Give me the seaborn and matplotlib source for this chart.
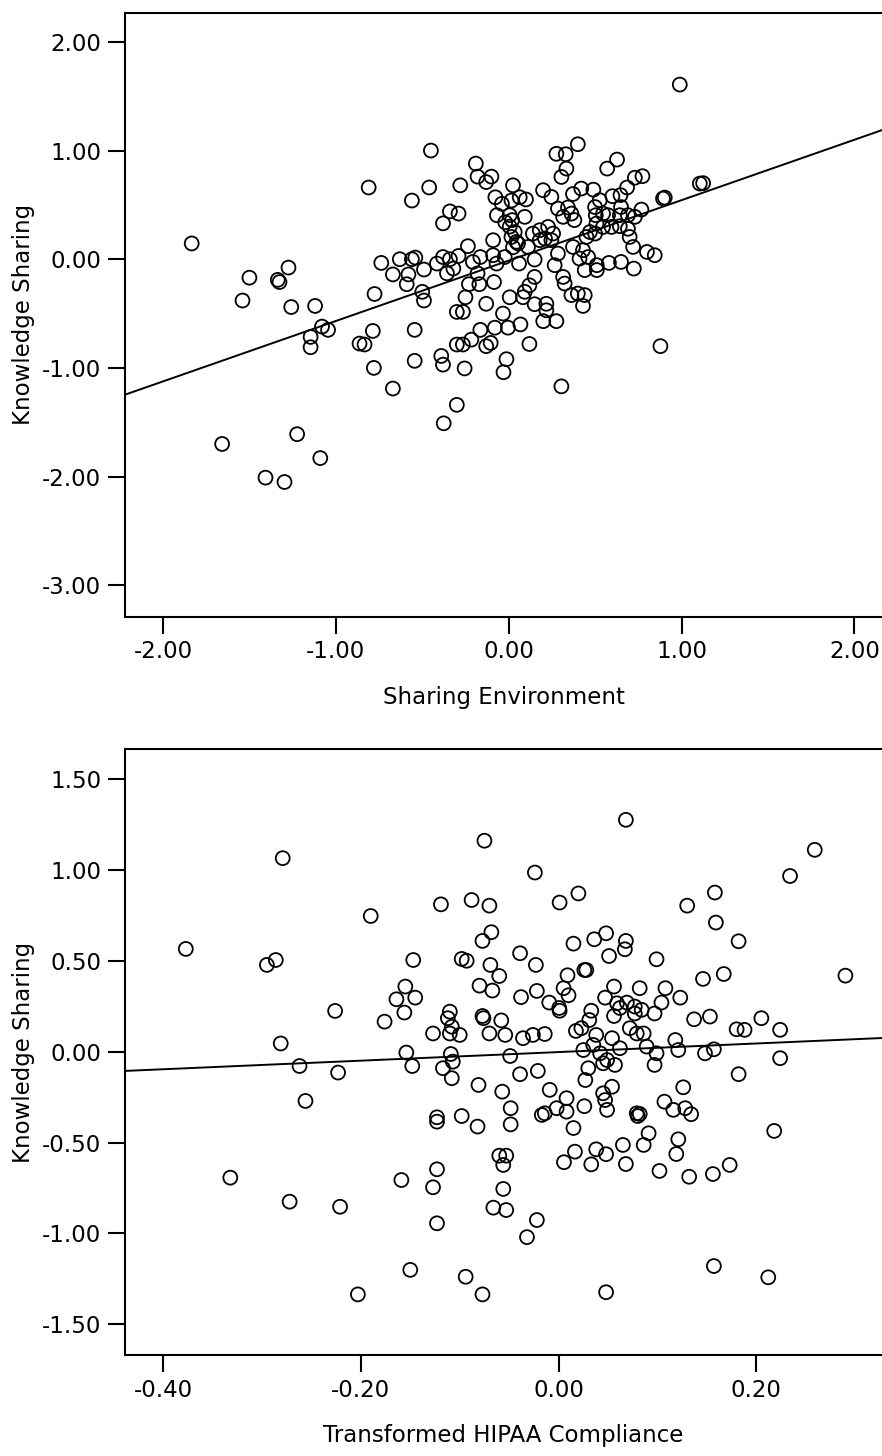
import numpy as np
import pandas as pd
import matplotlib
matplotlib.use("Agg")
import matplotlib.pyplot as plt
import seaborn as sns

# Top panel: Sharing Environment vs Knowledge Sharing
env_x = [
    -0.45, -0.81, -0.56, -0.46, -0.28, -0.19, -0.18, -0.13, -0.10,
    -0.34, -0.29, -0.38,
    0.025, -0.077, -0.039, 0.016, 0.064, 0.10,
    -0.068, 0.006, -0.02, 0.02, 0.006, 0.035, 0.016, 0.045, 0.025, 0.054,
    0.093, -0.09, -0.236,
    -0.737, -0.63, -0.56, -0.54, -0.67, -0.58, -0.59, -0.49,
    -0.415, -0.38, -0.34, -0.29, -0.357, -0.32,
    -0.207, -0.164, -0.09, -0.07,
    -0.18, -0.17, -0.23, -0.085,
    -0.023, 0.06,
    -0.776, -0.50, -0.49, -0.25, -0.30, -0.265, -0.13, -0.033,
    0.006, 0.083, 0.093,
    -0.786, -0.863, -0.834, -0.544,
    -0.164, -0.08, -0.004, 0.068,
    -0.30, -0.265, -0.216, -0.13, -0.104, 0.12,
    -0.78, -0.544, -0.39, -0.38, -0.255, -0.013, -0.03,
    -0.67, -0.30, -0.376,
    -1.834, -1.50, -1.54, -1.336, -1.326, -1.274, -1.258, -1.12, -1.08, -1.045,
    -1.146, -1.146,
    -1.658, -1.224, -1.09, -1.407, -1.297,
    0.40, 0.276, 0.33, 0.334, 0.305, 0.57, 0.627, 0.73, 0.774, 1.106, 1.125,
    0.893, 0.903,
    0.199, 0.247, 0.372, 0.42, 0.49, 0.60, 0.647, 0.685,
    0.285, 0.343, 0.315, 0.363, 0.38,
    0.50, 0.527, 0.504, 0.546, 0.575,
    0.65, 0.643, 0.69, 0.73, 0.768,
    0.508, 0.546, 0.595, 0.643, 0.69,
    0.47, 0.45, 0.50,
    0.14, 0.18, 0.228, 0.257, 0.21, 0.18, 0.247,
    0.112, 0.15,
    0.372, 0.43, 0.41, 0.46, 0.51, 0.51,
    0.285, 0.266, 0.44,
    0.58, 0.65, 0.724,
    0.70, 0.72, 0.80, 0.845,
    0.15, 0.12,
    0.315, 0.324, 0.363, 0.40, 0.44, 0.43,
    0.15, 0.218, 0.218, 0.20, 0.276,
    0.878, 0.305, 0.99,
]
env_y = [
    1.00, 0.66, 0.54, 0.66, 0.68, 0.88, 0.76, 0.71, 0.76,
    0.44, 0.42, 0.33,
    0.68, 0.57, 0.51, 0.54, 0.57, 0.55,
    0.405, 0.405, 0.34, 0.36, 0.30, 0.25, 0.205, 0.16, 0.11, 0.145,
    0.39, 0.175, 0.12,
    -0.034, 0.00, 0.00, 0.015, -0.14, -0.14, -0.23, -0.095,
    -0.04, 0.02, 0.00, 0.03, -0.13, -0.086,
    -0.025, 0.02, 0.037, -0.04,
    -0.13, -0.23, -0.23, -0.21,
    0.02, -0.04,
    -0.32, -0.30, -0.38, -0.35, -0.485, -0.485, -0.41, -0.50,
    -0.35, -0.35, -0.30,
    -0.66, -0.776, -0.785, -0.65,
    -0.65, -0.63, -0.63, -0.60,
    -0.785, -0.785, -0.74, -0.80, -0.77, -0.78,
    -1.00, -0.935, -0.89, -0.97, -1.005, -0.92, -1.04,
    -1.19, -1.34, -1.51,
    0.145, -0.17, -0.38, -0.19, -0.21, -0.077, -0.44, -0.43, -0.62, -0.65,
    -0.715, -0.81,
    -1.70, -1.61, -1.83, -2.01, -2.05,
    1.058, 0.97, 0.966, 0.834, 0.757, 0.834, 0.917, 0.75, 0.764, 0.696, 0.70,
    0.558, 0.567,
    0.635, 0.573, 0.60, 0.65, 0.64, 0.58, 0.59, 0.66,
    0.466, 0.476, 0.39, 0.42, 0.36,
    0.48, 0.543, 0.405, 0.42, 0.405,
    0.48, 0.405, 0.405, 0.39, 0.457,
    0.328, 0.297, 0.297, 0.304, 0.28,
    0.25, 0.205, 0.236,
    0.236, 0.267, 0.297, 0.236, 0.19, 0.175, 0.175,
    0.113, -0.003,
    0.113, 0.083, 0.006, 0.02, -0.055, -0.10,
    0.052, -0.055, -0.10,
    -0.034, -0.025, -0.086,
    0.205, 0.113, 0.067, 0.037,
    -0.163, -0.24,
    -0.163, -0.224, -0.33, -0.316, -0.33, -0.43,
    -0.414, -0.41, -0.47, -0.57, -0.57,
    -0.80, -1.17, 1.607,
]

# Bottom panel: Transformed HIPAA Compliance vs Knowledge Sharing
hipaa_x = [
    -0.377, -0.279, -0.295, -0.286, -0.19, -0.226, -0.281,
    -0.147, -0.155, -0.164, -0.145, -0.156, -0.176,
    -0.119, -0.088, -0.07, -0.075, -0.068, -0.077,
    -0.098, -0.093, -0.069, -0.08, -0.067,
    -0.11, -0.112, -0.108, -0.10, -0.127, -0.11,
    -0.077, -0.076, -0.07, -0.058, -0.06,
    0.068, -0.024, 0.259, 0.234, 0.001, 0.02, 0.13, 0.158, 0.159, 0.182, 0.29,
    0.015, 0.036, 0.048, 0.068, 0.067, 0.051,
    -0.039, -0.023,
    0.009, 0.005, 0.01, 0.026, 0.028,
    0.099, 0.146, 0.167,
    -0.038, -0.022, -0.0095, 0.0006, 0.001,
    0.056, 0.047, 0.059, 0.069, 0.062, 0.056, 0.077, 0.082, 0.084, 0.077,
    0.108, 0.104, 0.097, 0.123,
    0.137, 0.153, 0.18, 0.188, 0.205, 0.224,
    -0.054, -0.036, -0.026, -0.014,
    0.0175, 0.023, 0.031, 0.033,
    0.038, 0.054, 0.072, 0.079, 0.086, 0.118,
    0.062, 0.025, 0.035, 0.042, 0.049, 0.057, 0.045,
    0.089, 0.099, 0.097, 0.121, 0.148, 0.157, 0.224, 0.182, -0.049,
    -0.039, -0.021, -0.009, -0.057,
    0.027, 0.030,
    0.045, 0.047, 0.054, 0.049,
    0.008, 0.008, -0.002, -0.014, -0.017, 0.026, 0.015,
    -0.0485, -0.0485,
    0.126, 0.107, 0.116, 0.128, 0.134,
    0.079, 0.08, 0.082,
    0.091, 0.086, 0.065, 0.068, 0.038, 0.048, 0.033, 0.0165, 0.0054,
    0.121, 0.119, 0.102, 0.132, 0.156, 0.173,
    0.218,
    -0.06, -0.053, -0.056, -0.056, -0.066, -0.053,
    -0.022, -0.032,
    0.157, 0.212, 0.048,
    -0.262, -0.223, -0.256, -0.154, -0.148,
    -0.109, -0.107, -0.117, -0.108,
    -0.081,
    -0.123, -0.123, -0.098, -0.082,
    -0.332, -0.272, -0.221, -0.159, -0.123, -0.127, -0.123,
    -0.15, -0.203, -0.094, -0.077,
]
hipaa_y = [
    0.565, 1.064, 0.477, 0.504, 0.746, 0.224, 0.045,
    0.504, 0.358, 0.288, 0.297, 0.215, 0.165,
    0.81, 0.834, 0.803, 1.16, 0.657, 0.609,
    0.51, 0.50, 0.477, 0.363, 0.336,
    0.22, 0.184, 0.137, 0.092, 0.10, 0.10,
    0.196, 0.184, 0.10, 0.172, 0.416,
    1.275, 0.985, 1.11, 0.966, 0.82, 0.87, 0.803, 0.875, 0.71, 0.607, 0.418,
    0.594, 0.618, 0.651, 0.609, 0.563, 0.526,
    0.541, 0.477,
    0.42, 0.349, 0.31, 0.449, 0.449,
    0.508, 0.40, 0.427,
    0.30, 0.334, 0.27, 0.24, 0.225,
    0.358, 0.297, 0.266, 0.27, 0.24, 0.196, 0.248, 0.349, 0.23, 0.21,
    0.349, 0.27, 0.21, 0.297,
    0.178, 0.193, 0.123, 0.12, 0.184, 0.12,
    0.092, 0.074, 0.092, 0.097,
    0.114, 0.129, 0.174, 0.225,
    0.092, 0.074, 0.129, 0.10, 0.10, 0.064,
    0.019, 0.009, 0.037, -0.009, -0.046, -0.073, -0.064,
    0.028, -0.009, -0.073, 0.009, -0.009, 0.013, -0.036, -0.124, -0.024,
    -0.124, -0.106, -0.21, -0.22,
    -0.156, -0.091,
    -0.229, -0.266, -0.193, -0.32,
    -0.256, -0.33, -0.311, -0.339, -0.348, -0.30, -0.42,
    -0.311, -0.40,
    -0.196, -0.275, -0.32, -0.311, -0.344,
    -0.339, -0.354, -0.343,
    -0.449, -0.513, -0.513, -0.618, -0.537, -0.564, -0.62, -0.55, -0.608,
    -0.482, -0.563, -0.656, -0.688, -0.673, -0.623,
    -0.436,
    -0.572, -0.572, -0.623, -0.755, -0.858, -0.871,
    -0.926, -1.02,
    -1.179, -1.241, -1.323,
    -0.079, -0.115, -0.271, -0.005, -0.079,
    -0.013, -0.055, -0.091, -0.146,
    -0.183,
    -0.361, -0.385, -0.354, -0.412,
    -0.693, -0.825, -0.853, -0.706, -0.647, -0.746, -0.944,
    -1.20, -1.335, -1.238, -1.335,
]

env_ticks_x = [-2.0, -1.0, 0.0, 1.0, 2.0]
env_ticks_y = [2.0, 1.0, 0.0, -1.0, -2.0, -3.0]
hipaa_ticks_x = [-0.4, -0.2, 0.0, 0.2]
hipaa_ticks_y = [1.5, 1.0, 0.5, 0.0, -0.5, -1.0, -1.5]

sns.set_style("ticks")
plt.rcParams['font.family'] = ['DejaVu Sans']

fig = plt.figure(figsize=(8.82, 14.56), dpi=100)
ax1 = fig.add_axes([0.1417, 0.5764, 0.8583, 0.415])
ax2 = fig.add_axes([0.1417, 0.0694, 0.8583, 0.416])

df_env = pd.DataFrame({"x": env_x, "y": env_y})
df_hip = pd.DataFrame({"x": hipaa_x, "y": hipaa_y})

scatter_style = dict(facecolors="none", edgecolors="black", s=100,
                     linewidths=1.3, alpha=1)
line_style = dict(color="black", linewidth=1.4)


def draw(ax, df, xlim, ylim, xticks, yticks, xlabel):
    ax.set_xlim(*xlim)
    ax.set_ylim(*ylim)
    sns.regplot(data=df, x="x", y="y", ax=ax, ci=None, truncate=False,
                color="black", scatter_kws=scatter_style, line_kws=line_style)
    ax.set_xlim(*xlim)
    ax.set_ylim(*ylim)
    ax.set_xticks(xticks)
    ax.set_yticks(yticks)
    ax.set_xticklabels([f"{v:.2f}" for v in xticks])
    ax.set_yticklabels([f"{v:.2f}" for v in yticks])
    ax.tick_params(axis="both", direction="out", length=12, width=1.5,
                   labelsize=16.5, pad=5, color="black", labelcolor="black")
    for side in ["left", "bottom", "top"]:
        ax.spines[side].set_linewidth(1.5)
        ax.spines[side].set_color("black")
    ax.spines["right"].set_visible(False)
    ax.set_xlabel(xlabel, fontsize=16.5, labelpad=16, color="black")
    ax.set_ylabel("Knowledge Sharing", fontsize=16.5, labelpad=5,
                  color="black")


draw(ax1, df_env, (-2.22, 2.16), (-3.29, 2.27), env_ticks_x, env_ticks_y,
     "Sharing Environment")
draw(ax2, df_hip, (-0.4385, 0.327), (-1.668, 1.663), hipaa_ticks_x,
     hipaa_ticks_y, "Transformed HIPAA Compliance")

fig.savefig("out.png", dpi=100)
